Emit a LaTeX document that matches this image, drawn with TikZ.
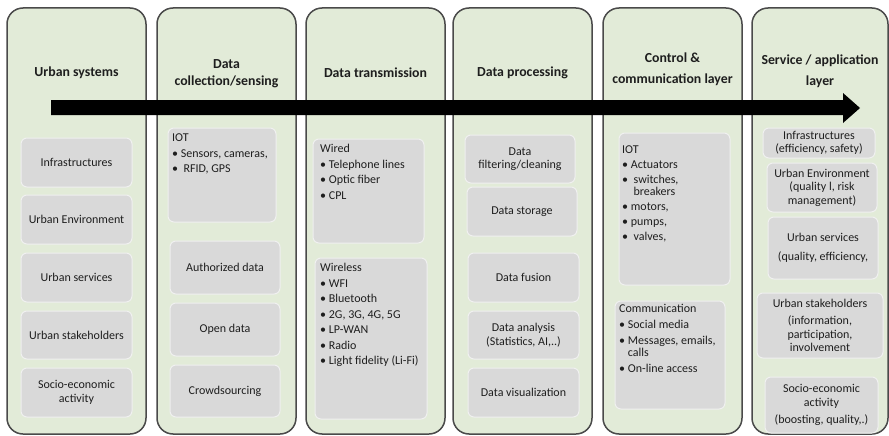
\documentclass[tikz,border=0pt]{standalone}
\usepackage{fontspec}
\setmainfont{Carlito}
\definecolor{colfill}{HTML}{E2EBD8}
\definecolor{colline}{HTML}{4A4A4A}
\definecolor{boxfill}{HTML}{D9D9D9}
\definecolor{txt}{HTML}{1E1E1E}
\tikzset{
 col/.style={draw=colline, line width=1.5pt, fill=colfill, rounded corners=16pt, inner sep=0},
 ibox/.style={fill=boxfill, draw=white!60!boxfill, line width=1pt, rounded corners=6pt, inner sep=0, align=center, text=txt, font=\fontsize{12}{13.5}\selectfont},
 hdr/.style={align=center, text=txt, font=\bfseries\fontsize{13.8}{17}\selectfont, inner sep=0},
 lst/.style={anchor=north west, align=left, inner sep=0, text=txt, font=\fontsize{12}{15.5}\selectfont},
}
\newcommand\ibx[6]{\node[ibox, minimum width={(#4-#2)*1pt}, minimum height={(#5-#3)*1pt}] (#1) at ({(#2+#4)/2},{(#3+#5)/2}) {#6};}
\newcommand\bul{\textbullet\ }
\begin{document}
\begin{tikzpicture}[x=1pt,y=-1pt]
\useasboundingbox[fill=white] (0,0) rectangle (889,436);
% columns
\node[col, minimum width=139pt, minimum height=426pt] (c1) at (76.5,221) {};
\node[col, minimum width=139pt, minimum height=426pt] (c2) at (226.5,221) {};
\node[col, minimum width=139pt, minimum height=426pt] (c3) at (375.5,221) {};
\node[col, minimum width=139pt, minimum height=426pt] (c4) at (522.5,221) {};
\node[col, minimum width=139pt, minimum height=426pt] (c5) at (672.5,221) {};
\node[col, minimum width=136pt, minimum height=426pt] (c6) at (820,221) {};
% headers
\node[hdr] (h1) at (76.5,73) {Urban systems};
\node[hdr] (h2) at (226.5,73.5) {Data\\collection/sensing};
\node[hdr] (h3) at (375.5,73) {Data transmission};
\node[hdr] (h4) at (522.5,73) {Data processing};
\node[hdr, font=\bfseries\fontsize{13.8}{21}\selectfont] (h5) at (672.5,69) {Control \&\\communication layer};
\node[hdr, font=\bfseries\fontsize{13.8}{21}\selectfont] (h6) at (820,71) {Service / application\\layer};
% arrow
\fill[black] (51,100) -- (843,100) -- (843,93) -- (860,108) -- (843,123) -- (843,115) -- (51,115) -- cycle;
% column 1
\ibx{a1}{21}{138}{132}{187}{Infrastructures}
\ibx{a2}{21}{195}{132}{244}{Urban Environment}
\ibx{a3}{21}{253}{132}{302}{Urban services}
\ibx{a4}{21}{311}{132}{359}{Urban stakeholders}
\ibx{a5}{21}{368}{132}{417}{Socio-economic\\activity}
% column 2
\ibx{b1}{168}{128}{276}{222}{}
\node[lst] (b1t) at (172,134) {IOT\\\bul Sensors, cameras,\\\bul\ RFID, GPS};
\ibx{b2}{170}{241}{280}{294}{Authorized data}
\ibx{b3}{170}{303}{280}{356}{Open data}
\ibx{b4}{170}{365}{280}{417}{Crowdsourcing}
% column 3
\ibx{d1}{313}{139}{424}{243}{}
\node[lst] (d1t) at (320,144) {Wired\\\bul Telephone lines\\\bul Optic fiber\\\bul CPL};
\ibx{d2}{315}{258}{427}{419}{}
\node[lst] (d2t) at (320,263) {Wireless\\\bul WFI\\\bul Bluetooth\\\bul 2G, 3G, 4G, 5G\\\bul LP-WAN\\\bul Radio\\\bul Light fidelity (Li-Fi)};
% column 4
\ibx{e1}{465}{135}{575}{183}{Data\\filtering/cleaning}
\ibx{e2}{467}{187}{577}{236}{Data storage}
\ibx{e3}{468}{253}{579}{302}{Data fusion}
\ibx{e4}{468}{311}{579}{359}{Data analysis\\(Statistics, AI,..)}
\ibx{e5}{468}{368}{579}{417}{Data visualization}
% column 5
\ibx{f1}{619}{133}{730}{285}{}
\node[lst, font=\fontsize{12}{15}\selectfont] (f1t) at (622,146) {IOT\\\bul Actuators\\\bul\ switches,\\[-3pt]\hphantom{\bul\ }breakers\\\bul motors,\\\bul pumps,\\\bul\ valves,};
\ibx{f2}{615}{301}{725}{409}{}
\node[lst, font=\fontsize{12}{16}\selectfont] (f2t) at (619,304) {Communication\\\bul Social media\\\bul Messages, emails,\\[-4pt]\hphantom{\bul}calls\\\bul On-line access};
% column 6
\ibx{g1}{763}{128}{875}{158}{Infrastructures\\(efficiency, safety)}
\ibx{g2}{767}{163}{877}{212}{Urban Environment\\(quality l, risk\\management)}
\ibx{g3}{768}{217}{878}{279}{Urban services\\[5pt](quality, efficiency,}
\ibx{g4}{757}{293}{883}{358}{Urban stakeholders\\[4pt](information,\\participation,\\involvement}
\ibx{g5}{765}{377}{878}{433}{Socio-economic\\activity\\[4pt](boosting, quality,.)}
\end{tikzpicture}
\end{document}
